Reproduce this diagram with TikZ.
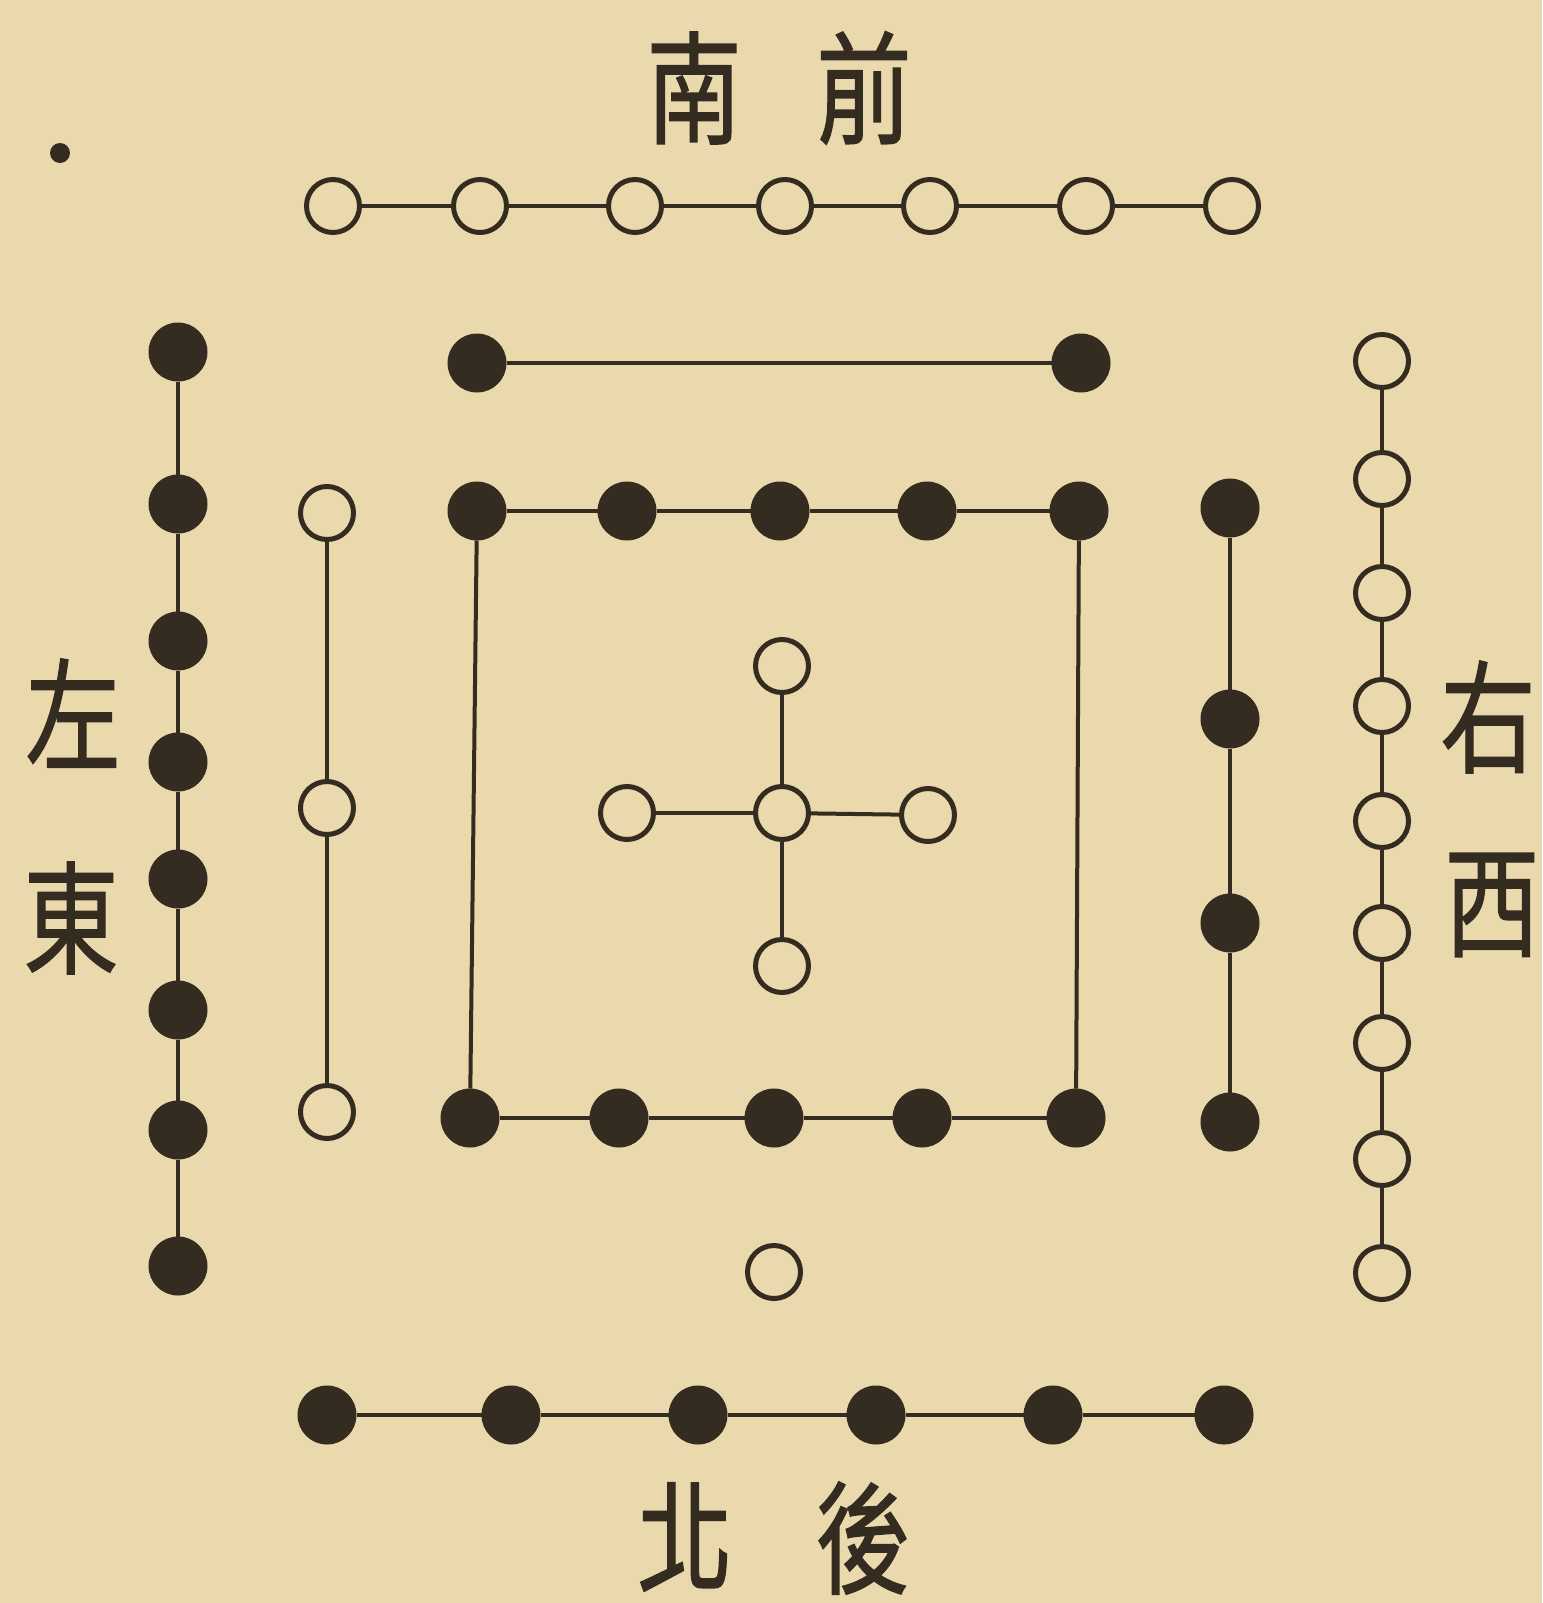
\documentclass[tikz,border=0pt]{standalone}
\usepackage{fontspec}
\usepackage{xcolor}
\usepackage{tikz}
\newfontfamily\cjk[FakeBold=1.2]{Noto Sans CJK TC}
\definecolor{paper}{RGB}{233,217,172}
\definecolor{ink}{RGB}{52,44,32}

\begin{document}
\begin{tikzpicture}[x=1pt,y=-1pt,
    wht/.style={draw=ink,circle,line width=5pt,fill=paper,minimum size=53pt,inner sep=0pt},
    blk/.style={draw=ink,circle,line width=1pt,fill=ink,minimum size=58pt,inner sep=0pt},
    link/.style={draw=ink,line width=4pt},
    lbl/.style={text=ink,font=\cjk\fontsize{122}{122}\selectfont,xscale=0.78,inner sep=0pt}]
    \fill[paper] (0,0) rectangle (1542,1603);
    \fill[ink] (60,153) circle (10);

    % top row, white
    \foreach \x [count=\i] in {333,480,635,785,930,1086,1232}
        \node[wht] (s\i) at (\x,206) {};
    \draw[link] (s1) -- (s2) -- (s3) -- (s4) -- (s5) -- (s6) -- (s7);

    % two black
    \node[blk] (a1) at (477,363) {};
    \node[blk] (a2) at (1081,363) {};
    \draw[link] (a1) -- (a2);

    % black square
    \foreach \x [count=\i] in {477,627,780,927,1079}
        \node[blk] (m\i) at (\x,511) {};
    \foreach \x [count=\i] in {470,619,774,922,1076}
        \node[blk] (n\i) at (\x,1118) {};
    \draw[link] (m1) -- (m2) -- (m3) -- (m4) -- (m5);
    \draw[link] (n1) -- (n2) -- (n3) -- (n4) -- (n5);
    \draw[link] (m1) -- (n1);
    \draw[link] (m5) -- (n5);

    % left columns
    \foreach \y [count=\i] in {352,504,641,762,879,1010,1130,1266}
        \node[blk] (e\i) at (178,\y) {};
    \draw[link] (e1) -- (e2) -- (e3) -- (e4) -- (e5) -- (e6) -- (e7) -- (e8);
    \foreach \y [count=\i] in {513,808,1112}
        \node[wht] (l\i) at (327,\y) {};
    \draw[link] (l1) -- (l2) -- (l3);

    % right columns
    \foreach \y [count=\i] in {508,719,923,1122}
        \node[blk] (r\i) at (1230,\y) {};
    \draw[link] (r1) -- (r2) -- (r3) -- (r4);
    \foreach \y [count=\i] in {361,479,593,706,821,933,1043,1159,1273}
        \node[wht] (w\i) at (1382,\y) {};
    \draw[link] (w1) -- (w2) -- (w3) -- (w4) -- (w5) -- (w6) -- (w7) -- (w8) -- (w9);

    % centre cross
    \node[wht] (c0) at (782,813) {};
    \node[wht] (c1) at (782,666) {};
    \node[wht] (c2) at (782,966) {};
    \node[wht] (c3) at (627,813) {};
    \node[wht] (c4) at (928,815) {};
    \draw[link] (c0) -- (c1);
    \draw[link] (c0) -- (c2);
    \draw[link] (c0) -- (c3);
    \draw[link] (c0) -- (c4);

    \node[wht] (o1) at (774,1272) {};

    % bottom row, black
    \foreach \x [count=\i] in {327,511,698,876,1053,1224}
        \node[blk] (k\i) at (\x,1415) {};
    \draw[link] (k1) -- (k2) -- (k3) -- (k4) -- (k5) -- (k6);

    % labels
    \node[lbl] (south) at (694,88) {南};
    \node[lbl] (front) at (864,88) {前};
    \node[lbl] (north) at (685,1537) {北};
    \node[lbl] (back) at (863,1538) {後};
    \node[lbl] (left) at (73,713) {左};
    \node[lbl] (east) at (71,918) {東};
    \node[lbl] (right) at (1488,717) {右};
    \node[lbl] (west) at (1492,905) {西};
\end{tikzpicture}
\end{document}
